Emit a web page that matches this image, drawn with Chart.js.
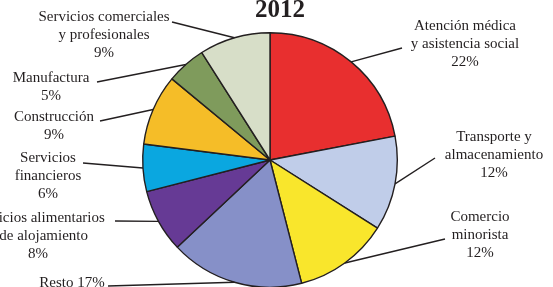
<!DOCTYPE html>
<html>
<head>
<meta charset="utf-8">
<script src="https://cdn.jsdelivr.net/npm/chart.js@4"></script>
<style>
  html, body { margin: 0; padding: 0; background: #fff; overflow: hidden; }
  #wrap { width: 553px; height: 300px; }
</style>
</head>
<body>
<div id="wrap"><canvas id="pie" width="553" height="300"></canvas></div>
<script>
// Data
const title = '2012';
const categories = [
    ['Atención médica', 'y asistencia social'],
    ['Transporte y', 'almacenamiento'],
    ['Comercio', 'minorista'],
    ['Resto'],
    ['Servicios alimentarios', 'y de alojamiento'],
    ['Servicios', 'financieros'],
    ['Construcción'],
    ['Manufactura'],
    ['Servicios comerciales', 'y profesionales']
];
const shares = [22, 12, 12, 17, 8, 6, 9, 5, 9];
const colors = ['#e82f2f', '#c0cde9', '#f9e62c', '#8690c8', '#663a95', '#0aa7e0', '#f5bd28', '#7f9b5c', '#d7dec8'];

// Label placement (text center x, first line y, leader line start)
const labelLayout = [
    { x: 465, y: 26, lx: 402, ly: 48 },
    { x: 494, y: 137, lx: 435, ly: 158 },
    { x: 480, y: 217, lx: 445, ly: 239 },
    { x: 72, y: 283, lx: 108, ly: 286, inline: true },
    { x: 38, y: 218, lx: 115, ly: 221 },
    { x: 48, y: 158, lx: 83, ly: 163 },
    { x: 54, y: 117, lx: 100, ly: 121 },
    { x: 51, y: 78, lx: 97, ly: 82 },
    { x: 104, y: 17, lx: 172, ly: 22 }
];

const outsideLabels = {
    id: 'outsideLabels',
    afterDraw(chart) {
        const ctx = chart.ctx;
        const meta = chart.getDatasetMeta(0);
        ctx.save();
        ctx.strokeStyle = '#231f20';
        ctx.lineWidth = 1.4;
        meta.data.forEach((arc, i) => {
            const p = labelLayout[i];
            const mid = (arc.startAngle + arc.endAngle) / 2;
            const ex = arc.x + Math.cos(mid) * arc.outerRadius;
            const ey = arc.y + Math.sin(mid) * arc.outerRadius;
            ctx.beginPath();
            ctx.moveTo(p.lx, p.ly);
            ctx.lineTo(ex, ey);
            ctx.stroke();
        });
        ctx.fillStyle = '#231f20';
        ctx.font = '15px "Liberation Serif", "Times New Roman", serif';
        ctx.textAlign = 'center';
        ctx.textBaseline = 'middle';
        const lh = 18;
        categories.forEach((lines, i) => {
            const p = labelLayout[i];
            const pct = shares[i] + '%';
            const all = p.inline ? [lines[0] + ' ' + pct] : lines.concat([pct]);
            all.forEach((t, k) => ctx.fillText(t, p.x, p.y + k * lh));
        });
        ctx.font = 'bold 25px "Liberation Serif", "Times New Roman", serif';
        ctx.textBaseline = 'alphabetic';
        ctx.fillText(title, 280, 17);
        ctx.restore();
    }
};

new Chart(document.getElementById('pie'), {
    type: 'pie',
    data: {
        labels: categories.map(c => c.join(' ')),
        datasets: [{
            data: shares,
            backgroundColor: colors,
            borderColor: '#231f20',
            borderWidth: 1.4
        }]
    },
    options: {
        responsive: false,
        animation: false,
        layout: { padding: { top: 32, bottom: 12, left: 0, right: 13 } },
        plugins: {
            legend: { display: false },
            tooltip: { enabled: false },
            title: { display: false }
        }
    },
    plugins: [outsideLabels]
});
</script>
</body>
</html>
